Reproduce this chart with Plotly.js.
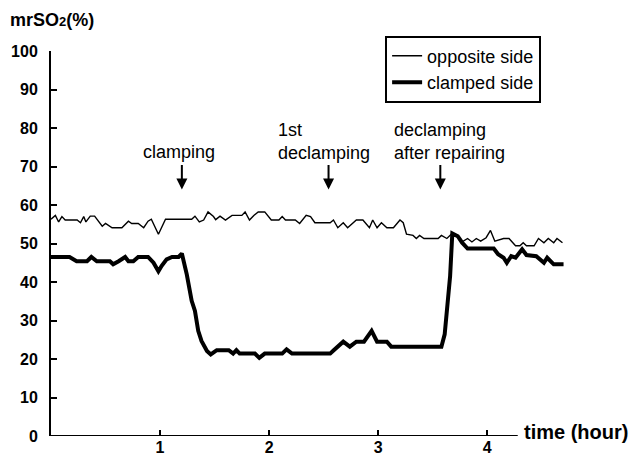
<!DOCTYPE html>
<html>
<head>
<meta charset="utf-8">
<script src="https://cdn.plot.ly/plotly-3.0.1.min.js"></script>
<style>html,body{margin:0;padding:0;background:#fff;}#chart{width:633px;height:456px;}</style>
</head>
<body>
<div id="chart"></div>
<script>
// Opposite side (thin line)
const oppositeTime = [0.00,0.04,0.07,0.10,0.13,0.24,0.27,0.30,0.32,0.36,0.40,0.47,0.50,0.56,0.65,0.71,0.74,0.80,0.85,0.89,0.92,0.985,1.05,1.29,1.32,1.36,1.40,1.44,1.49,1.51,1.55,1.60,1.66,1.75,1.78,1.82,1.86,1.90,1.96,2.02,2.09,2.12,2.15,2.24,2.28,2.34,2.38,2.42,2.56,2.59,2.63,2.68,2.72,2.80,2.86,2.92,2.95,2.99,3.03,3.08,3.14,3.20,3.23,3.26,3.32,3.35,3.38,3.42,3.55,3.58,3.63,3.67,3.72,3.77,3.82,3.86,3.90,3.94,3.99,4.03,4.07,4.15,4.20,4.26,4.30,4.33,4.36,4.43,4.47,4.52,4.56,4.61,4.64,4.69];
const oppositeValues = [56.3,57.3,55.6,57.0,56.1,56.1,55.4,57.0,55.6,57.1,57.1,54.5,55.2,54.1,54.1,55.8,55.2,55.2,54.1,55.8,56.3,52.4,56.3,56.3,57.1,55.6,56.1,58.2,57.0,56.2,57.1,56.1,57.3,57.3,58.2,56.1,57.3,58.2,58.2,56.1,56.1,57.0,56.1,56.1,55.2,57.3,57.0,55.4,55.4,56.1,54.1,55.4,54.1,56.1,56.1,54.1,56.1,54.1,55.4,54.1,54.1,56.1,55.4,52.4,52.1,51.3,52.1,51.3,51.3,52.1,51.3,52.4,51.9,50.4,51.3,50.4,51.3,50.6,51.5,53.4,50.6,51.3,51.3,49.4,49.4,50.2,49.4,49.4,51.3,50.2,51.3,50.2,51.3,50.2];

// Clamped side (thick line)
const clampedTime = [0.00,0.17,0.235,0.33,0.37,0.42,0.54,0.57,0.62,0.68,0.71,0.755,0.80,0.89,0.94,0.985,1.015,1.06,1.11,1.17,1.20,1.245,1.29,1.32,1.35,1.38,1.43,1.465,1.52,1.63,1.67,1.70,1.73,1.87,1.91,1.96,2.12,2.16,2.21,2.56,2.59,2.68,2.74,2.80,2.87,2.94,2.99,3.08,3.12,3.58,3.61,3.64,3.66,3.68,3.70,3.73,3.77,3.82,3.94,4.06,4.10,4.15,4.18,4.22,4.26,4.32,4.36,4.45,4.52,4.55,4.61,4.70];
const clampedValues = [46.5,46.5,45.4,45.4,46.5,45.4,45.4,44.6,45.4,46.5,45.4,45.4,46.5,46.5,45.0,42.8,44.2,45.9,46.5,46.5,47.4,42.0,35.1,32.5,27.3,24.7,22.1,21.2,22.3,22.3,21.4,22.3,21.4,21.4,20.3,21.4,21.4,22.5,21.4,21.4,22.2,24.5,23.2,24.5,24.5,27.3,24.5,24.5,23.2,23.2,26.4,35.1,41.6,52.6,52.4,51.9,50.2,48.7,48.7,48.7,47.2,46.3,45.0,46.7,46.3,48.5,47.0,46.7,45.0,46.3,44.6,44.6];

const seriesNames = ['opposite side','clamped side'];
const xTicks = [1,2,3,4];
const yTicks = [0,10,20,30,40,50,60,70,80,90,100];
const events = [
  {label:'clamping', time:1.20},
  {label:'1st<br>declamping', time:2.545},
  {label:'declamping<br>after repairing', time:3.57}
];

const FONT = 'Arial, "Liberation Sans", Helvetica, sans-serif';

const traces = [
  {x: oppositeTime, y: oppositeValues, name: seriesNames[0], type:'scatter', mode:'lines',
   line:{color:'#000', width:1.4}},
  {x: clampedTime, y: clampedValues, name: seriesNames[1], type:'scatter', mode:'lines',
   line:{color:'#000', width:4}}
];

const annotations = [
  {x:1.175, y:73.8, xref:'x', yref:'y', text:events[0].label, showarrow:false,
   xanchor:'center', yanchor:'middle', font:{family:FONT, size:18, color:'#000'}},
  {x:2.06, y:76.6, xref:'x', yref:'y', text:events[1].label, showarrow:false, align:'left',
   xanchor:'left', yanchor:'middle', font:{family:FONT, size:18, color:'#000'}},
  {x:3.128, y:76.4, xref:'x', yref:'y', text:events[2].label, showarrow:false, align:'left',
   xanchor:'left', yanchor:'middle', font:{family:FONT, size:18, color:'#000'}},
  {x:0.909, y:0.01, xref:'paper', yref:'paper', text:'<b>time (hour)</b>', showarrow:false,
   xanchor:'left', yanchor:'middle', font:{family:FONT, size:20, color:'#000'}}
];
events.forEach(e => {
  annotations.push({x:e.time, y:64.0, xref:'x', yref:'y', text:'', showarrow:true,
    ax:0, ay:-26, arrowhead:2, arrowsize:1.1, arrowwidth:2, arrowcolor:'#000'});
});

const layout = {
  width:633, height:456,
  margin:{l:51, r:64, t:51, b:20, pad:0},
  paper_bgcolor:'#fff', plot_bgcolor:'#fff',
  font:{family:FONT, color:'#000'},
  title:{text:'<b>mrSO<span style="font-size:13px">2</span>(%)</b>', xref:'container', yref:'container',
         x:10/633, xanchor:'left', y:1-20/456, yanchor:'middle',
         font:{family:FONT, size:18, color:'#000'}},
  showlegend:true,
  legend:{x:0.645, y:1.04, xanchor:'left', yanchor:'top', bgcolor:'#fff',
          bordercolor:'#000', borderwidth:2, entrywidth:120, tracegroupgap:0,
          font:{family:FONT, size:18, color:'#000'}},
  xaxis:{range:[0,4.75], tickvals:xTicks, ticktext:xTicks.map(String), ticks:'inside', ticklen:6, tickwidth:2,
         tickcolor:'#000', showgrid:false, zeroline:false, showline:false, automargin:false,
         tickfont:{family:FONT, size:16, color:'#000', weight:'bold'}},
  yaxis:{range:[0,100], tickvals:yTicks, ticktext:yTicks.map(String), ticks:'inside', ticklen:6, tickwidth:2,
         tickcolor:'#000', showgrid:false, zeroline:false, showline:true, linewidth:2, linecolor:'#000',
         automargin:false, ticklabelstandoff:8,
         tickfont:{family:FONT, size:16, color:'#000', weight:'bold'}},
  shapes:[{type:'line', xref:'x', yref:'y', x0:0, x1:4.28, y0:0, y1:0, line:{color:'#000', width:2}}],
  annotations: annotations
};

Plotly.newPlot('chart', traces, layout, {displayModeBar:false, staticPlot:true});
</script>
</body>
</html>
